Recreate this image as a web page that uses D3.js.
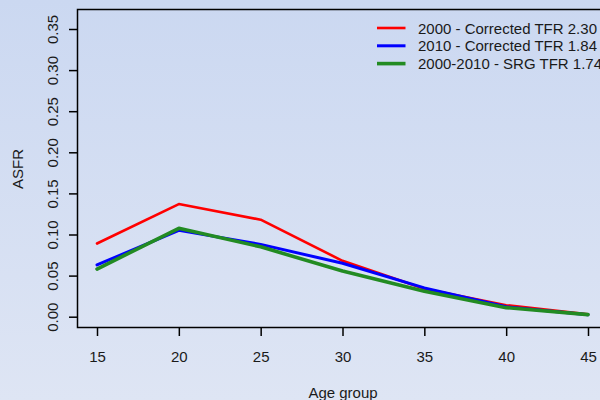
<!DOCTYPE html>
<html>
<head>
<meta charset="utf-8">
<script src="https://cdn.jsdelivr.net/npm/d3@7"></script>
<style>
  body { margin: 0; padding: 0; overflow: hidden; }
  text { font-family: "Liberation Sans", Arial, sans-serif; fill: #1a1a1a; }
</style>
</head>
<body>
<div id="chart"></div>
<script>
let CHART_WIDTH = 600;
let CHART_HEIGHT = 400;

// data
var ages = [15, 20, 25, 30, 35, 40, 45];
var asfr2000 = [0.089, 0.137, 0.118, 0.068, 0.034, 0.014, 0.003];
var asfr2010 = [0.063, 0.105, 0.088, 0.065, 0.035, 0.012, 0.0025];
var asfrSRG = [0.058, 0.1075, 0.085, 0.0555, 0.031, 0.011, 0.0025];
var seriesNames = ["2000 - Corrected TFR 2.30", "2010 - Corrected TFR 1.84", "2000-2010 - SRG TFR 1.74"];
var seriesColors = ["#ff0000", "#0000ff", "#228b22"];
var seriesWidths = [2.6, 3, 3.6];
var xTicks = [15, 20, 25, 30, 35, 40, 45];
var yTicks = [0, 0.05, 0.10, 0.15, 0.20, 0.25, 0.30, 0.35];

var FONT_SIZE = "15px";

var svg = d3.select("#chart").append("svg")
	.attr("width", CHART_WIDTH)
	.attr("height", CHART_HEIGHT);

var defs = svg.append("defs");
var grad = defs.append("linearGradient")
	.attr("id", "bg-grad")
	.attr("x1", 0).attr("y1", 0).attr("x2", 0).attr("y2", 1);
grad.append("stop").attr("offset", "0%").attr("stop-color", "#cbd8f1");
grad.append("stop").attr("offset", "100%").attr("stop-color", "#dee5f4");

svg.append("rect")
	.attr("width", CHART_WIDTH)
	.attr("height", CHART_HEIGHT)
	.attr("fill", "url(#bg-grad)");

// plot box
var box = { left: 77.5, top: 9.5, right: 609, bottom: 327.5 };

var xScale = d3.scaleLinear().domain([15, 45]).range([97, 588]);
var yScale = d3.scaleLinear().domain([0, 0.35]).range([316.7, 29]);

var series = [asfr2000, asfr2010, asfrSRG];

var line = d3.line()
	.x(function(d, i) { return xScale(ages[i]); })
	.y(function(d) { return yScale(d); });

svg.selectAll(".series")
	.data(series)
	.enter().append("path")
	.attr("class", "series")
	.attr("d", function(d) { return line(d); })
	.attr("fill", "none")
	.attr("stroke", function(d, i) { return seriesColors[i]; })
	.attr("stroke-width", function(d, i) { return seriesWidths[i]; })
	.attr("stroke-linejoin", "round")
	.attr("stroke-linecap", "round");

svg.append("rect")
	.attr("x", box.left)
	.attr("y", box.top)
	.attr("width", box.right - box.left)
	.attr("height", box.bottom - box.top)
	.attr("fill", "none")
	.attr("stroke", "#000")
	.attr("stroke-width", 1.5);

// y axis
var yAxis = svg.append("g")
	.attr("transform", "translate(" + box.left + ",0)")
	.call(d3.axisLeft(yScale).tickValues(yTicks).tickSize(8.5).tickFormat(d3.format(".2f")));
yAxis.select(".domain").remove();
yAxis.selectAll(".tick line").attr("stroke", "#000").attr("stroke-width", 1.5);
yAxis.selectAll(".tick text")
	.attr("x", null).attr("dy", null)
	.attr("transform", "translate(-25,0) rotate(-90)")
	.attr("text-anchor", "middle")
	.attr("dominant-baseline", "central")
	.style("font-size", FONT_SIZE)
	.style("font-family", "'Liberation Sans', Arial, sans-serif")
	.attr("fill", "#1a1a1a");

// x axis
var xAxis = svg.append("g")
	.attr("transform", "translate(0," + box.bottom + ")")
	.call(d3.axisBottom(xScale).tickValues(xTicks).tickSize(8.5));
xAxis.select(".domain").remove();
xAxis.selectAll(".tick line").attr("stroke", "#000").attr("stroke-width", 1.5);
xAxis.selectAll(".tick text")
	.attr("y", 29).attr("dy", null)
	.attr("dominant-baseline", "central")
	.style("font-size", FONT_SIZE)
	.style("font-family", "'Liberation Sans', Arial, sans-serif")
	.attr("fill", "#1a1a1a");

// axis titles
svg.append("text")
	.attr("x", 343).attr("y", 392)
	.attr("text-anchor", "middle")
	.attr("dominant-baseline", "central")
	.style("font-size", FONT_SIZE)
	.text("Age group");

svg.append("text")
	.attr("transform", "translate(17,169) rotate(-90)")
	.attr("text-anchor", "middle")
	.attr("dominant-baseline", "central")
	.style("font-size", FONT_SIZE)
	.text("ASFR");

// legend
var legend = svg.append("g").attr("class", "legend");
var legendItems = legend.selectAll(".item")
	.data(seriesNames)
	.enter().append("g")
	.attr("class", "item")
	.attr("transform", function(d, i) { return "translate(377," + (28 + i * 17.8) + ")"; });
legendItems.append("line")
	.attr("x1", 0).attr("x2", 28.5)
	.attr("y1", 0).attr("y2", 0)
	.attr("stroke", function(d, i) { return seriesColors[i]; })
	.attr("stroke-width", function(d, i) { return seriesWidths[i]; });
legendItems.append("text")
	.attr("x", 41)
	.attr("dominant-baseline", "central")
	.style("font-size", FONT_SIZE)
	.text(function(d) { return d; });
</script>
</body>
</html>
